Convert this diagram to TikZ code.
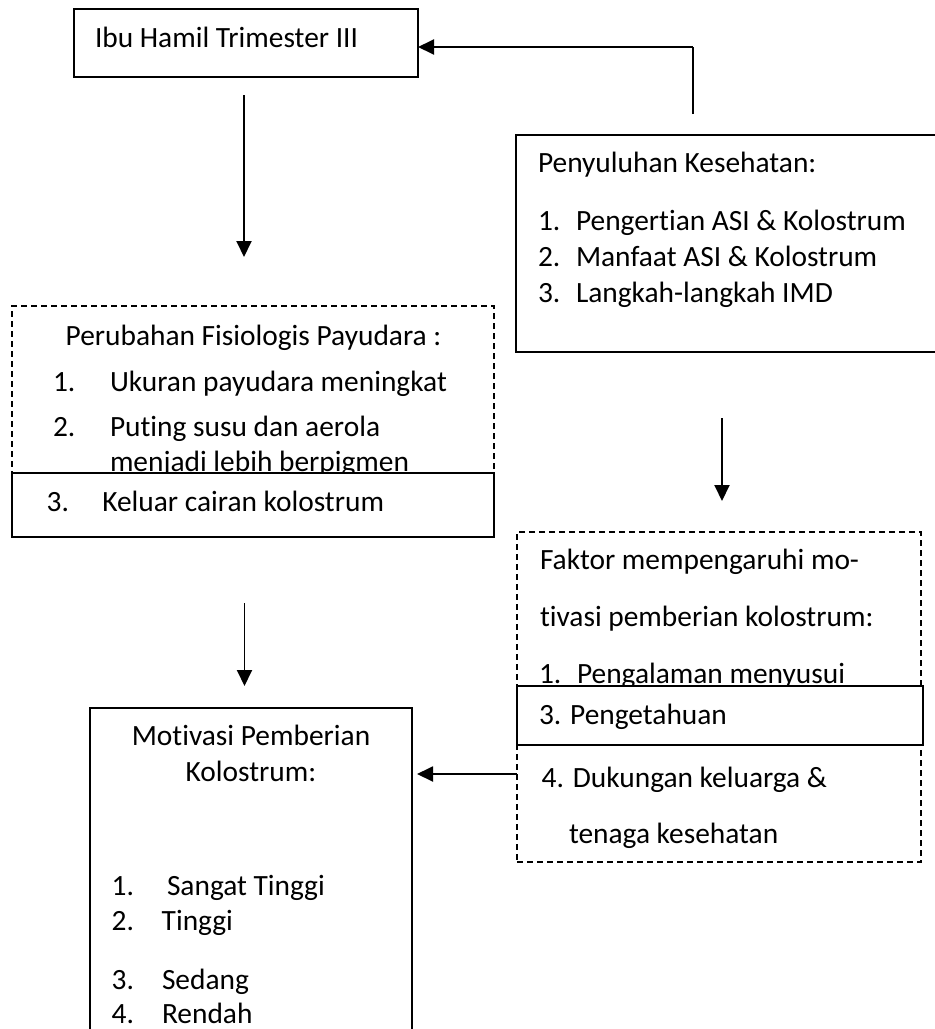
\documentclass[tikz,border=0pt]{standalone}
\usepackage{fontspec}
\setmainfont[Ligatures=NoCommon]{Carlito}
\usetikzlibrary{arrows.meta,calc}
\tikzset{
  box/.style={draw, line width=1.9pt, fill=white, inner sep=0pt, outer sep=0pt, anchor=north west},
  dbox/.style={draw, line width=1.5pt, dash pattern=on 6pt off 4pt, inner sep=0pt, outer sep=0pt, anchor=north west},
  txt/.style={anchor=base west, inner sep=0pt, outer sep=0pt, font=\fontsize{29.4}{35}\selectfont},
  ctxt/.style={anchor=base, inner sep=0pt, outer sep=0pt, font=\fontsize{29.4}{35}\selectfont},
  arr/.style={line width=1.9pt, -{Triangle[length=16pt,width=15pt]}},
  ln/.style={line width=1.9pt}
}
\begin{document}
\begin{tikzpicture}[x=1pt,y=-1pt]
\useasboundingbox (0,0) rectangle (935,1029);
\clip (0,0) rectangle (935,1029);
% Ibu Hamil
\node[box, minimum width=344pt, minimum height=68pt] (ibu) at (74,9) {};
\node[txt] (tibu) at (95,47) {Ibu Hamil Trimester III};
% Penyuluhan
\node[box, minimum width=440pt, minimum height=217pt] (pen) at (516,135) {};
\node[txt] (tpen) at (538,172.7) {Penyuluhan Kesehatan:};
\node[txt] (pn1) at (538,230) {1.};
\node[txt] (pt1) at (576,230) {Pengertian ASI \& Kolostrum};
\node[txt] (pn2) at (538,266.7) {2.};
\node[txt] (pt2) at (576,266.7) {Manfaat ASI \& Kolostrum};
\node[txt] (pn3) at (538,302.7) {3.};
\node[txt] (pt3) at (576,302.7) {Langkah-langkah IMD};
% Perubahan (dashed)
\node[dbox, minimum width=482pt, minimum height=231pt] (per) at (12,306) {};
\node[ctxt] (tper) at (253.5,345) {Perubahan Fisiologis Payudara :};
\node[txt] (qn1) at (53,391.7) {1.};
\node[txt] (qt1) at (110,391.7) {Ukuran payudara meningkat};
\node[txt] (qn2) at (53,436.7) {2.};
\node[txt] (qt2) at (110,436.7) {Puting susu dan aerola};
\node[txt] (qt2b) at (110,471.7) {menjadi lebih berpigmen};
\node[box, minimum width=482pt, minimum height=64pt] (per3) at (12,473) {};
\node[txt] (qn3) at (46.7,511.7) {3.};
\node[txt] (qt3) at (102.3,511.7) {Keluar cairan kolostrum};
% Faktor (dashed)
\node[dbox, minimum width=404pt, minimum height=330pt] (fak) at (517,532) {};
\node[txt] (tfak1) at (540,569) {Faktor mempengaruhi mo-};
\node[txt] (tfak2) at (540,626.7) {tivasi pemberian kolostrum:};
\node[txt] (fn1) at (539,683) {1.};
\node[txt] (ft1) at (577,683) {Pengalaman menyusui};
\node[box, minimum width=406pt, minimum height=59pt] (fak3) at (517,686) {};
\node[txt] (ft3) at (539,724) {3. Pengetahuan};
\node[txt] (ft4) at (541.7,787.7) {4. Dukungan keluarga \&};
\node[txt] (ft4b) at (569,843) {tenaga kesehatan};
% Motivasi
\node[box, minimum width=322pt, minimum height=340pt] (mot) at (90,708) {};
\node[ctxt] (tmot1) at (251,745) {Motivasi Pemberian};
\node[ctxt] (tmot2) at (251,781) {Kolostrum:};
\node[txt] (mn1) at (111.7,895) {1.};
\node[txt] (mt1) at (167,895) {Sangat Tinggi};
\node[txt] (mn2) at (111.7,930) {2.};
\node[txt] (mt2) at (161.7,930) {Tinggi};
\node[txt] (mn3) at (111.7,989.3) {3.};
\node[txt] (mt3) at (162,989.3) {Sedang};
\node[txt] (mn4) at (111.7,1023) {4.};
\node[txt] (mt4) at (162,1023) {Rendah};
% connectors
\coordinate (c1) at (693,114);
\coordinate (c1t) at (693,47);
\draw[ln] (c1) -- (c1t);
\draw[arr] (c1t) -- (c1t -| ibu.east);
\coordinate (a1s) at (244,95);
\coordinate (a1e) at (244,257);
\draw[arr] (a1s) -- (a1e);
\coordinate (a2s) at (722,418);
\coordinate (a2e) at (722,501);
\draw[arr] (a2s) -- (a2e);
\coordinate (a3s) at (244.5,603);
\coordinate (a3e) at (244.5,686);
\draw[arr] (a3s) -- (a3e);
\coordinate (a4s) at (517,774);
\draw[arr, shorten >=5pt] (a4s) -- (a4s -| mot.east);
\end{tikzpicture}
\end{document}
